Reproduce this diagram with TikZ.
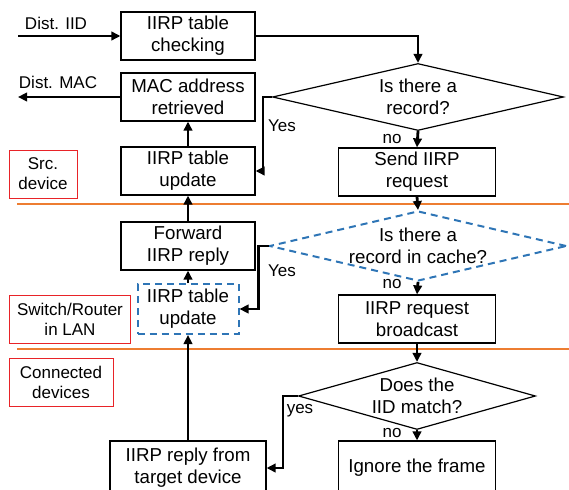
\documentclass[tikz,border=0pt]{standalone}
\usepackage{fontspec}
\setmainfont{Liberation Sans}
\usetikzlibrary{shapes.geometric,arrows.meta}

\definecolor{lineorange}{RGB}{237,125,49}
\definecolor{cacheblue}{RGB}{46,117,182}
\definecolor{zonered}{RGB}{232,35,40}

\begin{document}
\begin{tikzpicture}[x=1pt, y=-1pt, >={Triangle[length=9pt,width=8.5pt]},
    box/.style={rectangle, draw, line width=1.2pt, inner sep=0pt, align=center,
        minimum width=134pt, minimum height=48pt, font=\fontsize{18.7}{22}\selectfont},
    decision/.style={diamond, draw, line width=1.2pt, inner sep=0pt, align=center,
        font=\fontsize{18.7}{22}\selectfont},
    zone/.style={rectangle, draw=zonered, line width=1pt, inner sep=0pt, align=center,
        minimum height=48pt, font=\fontsize{17}{20}\selectfont},
    flow/.style={->, line width=2.8pt},
    lbl/.style={inner sep=0pt, font=\fontsize{17}{20}\selectfont},
    sep/.style={lineorange, line width=1.5pt}]
    \useasboundingbox (0,0) rectangle (569,489);
    \clip (0,0) rectangle (569,489);

    % zones
    \draw[sep] (17,204) -- (569,204);
    \draw[sep] (17,349) -- (569,349);
    \node[zone, minimum width=68pt] (src) at (43,174) {Src.\\device};
    \node[zone, minimum width=121pt] (lan) at (70,319) {Switch/Router\\in LAN};
    \node[zone, minimum width=104pt] (conn) at (61,382) {Connected\\devices};

    % left column
    \node[box] (check) at (188,36) {IIRP table\\checking};
    \node[box] (mac) at (188,97) {MAC address\\retrieved};
    \node[box] (srcupd) at (188,171) {IIRP table\\update};
    \node[box] (fwd) at (188,246) {Forward\\IIRP reply};
    \node[box, draw=cacheblue, dashed, dash pattern=on 7pt off 5pt, line width=2pt,
        minimum width=101pt, minimum height=50pt] (lanupd) at (188,309) {IIRP table\\update};
    \node[box, minimum width=156pt, minimum height=54pt] (target) at (188,468) {IIRP reply from\\target device};

    % right column
    \node[decision, aspect=4.3, minimum width=291pt, minimum height=67pt] (rec) at (418,97) {Is there a\\record?};
    \node[box, minimum width=157pt] (send) at (417,172) {Send IIRP\\request};
    \node[decision, draw=cacheblue, dashed, dash pattern=on 7pt off 5pt, line width=2pt,
        aspect=4.2, minimum width=297pt, minimum height=70pt] (cache) at (418,246) {Is there a\\record in cache?};
    \node[box, minimum width=157pt] (bcast) at (417,319) {IIRP request\\broadcast};
    \node[decision, aspect=3.5, minimum width=237pt, minimum height=67pt] (match) at (417,396) {Does the\\IID match?};
    \node[box, minimum width=157pt, minimum height=54pt] (ignore) at (417,468) {Ignore the frame};

    % in and out
    \coordinate (iidin) at (18,36);
    \coordinate (macout) at (18,97);
    \draw[flow] (iidin) -- (check);
    \node[lbl] (iidlbl) at (56,23) {Dist. IID};
    \draw[flow] (mac.west |- macout) -- (macout);
    \node[lbl] (maclbl) at (58,82) {Dist. MAC};

    % flow
    \draw[flow] (check.east) -| (rec.north);
    \draw[flow] (rec.west) -- ++(-9,0) |- (srcupd.east);
    \node[lbl] (yes1) at (282,126) {Yes};
    \draw[flow] (rec.south) -- (send.north);
    \node[lbl] (no1) at (392,139) {no};
    \draw[flow] (send.south) -- (cache.north);
    \draw[flow] (srcupd.north) -- (mac.south);
    \draw[flow] (fwd.north) -- (srcupd.south);
    \draw[flow] (lanupd.north) -- (fwd.south);
    \draw[flow] (cache.west) -- ++(-10,0) |- (lanupd.east);
    \node[lbl] (yes2) at (282,271) {Yes};
    \draw[flow] (cache.south) -- (bcast.north);
    \node[lbl] (no2) at (392,284) {no};
    \draw[flow] (bcast.south) -- (match.north);
    \draw[flow] (match.west) -- ++(-15,0) |- (target.east);
    \node[lbl] (yes3) at (300,411) {yes};
    \draw[flow] (match.south) -- (ignore.north);
    \node[lbl] (no3) at (392,433) {no};
    \draw[flow] (target.north) -- (lanupd.south);
\end{tikzpicture}
\end{document}
